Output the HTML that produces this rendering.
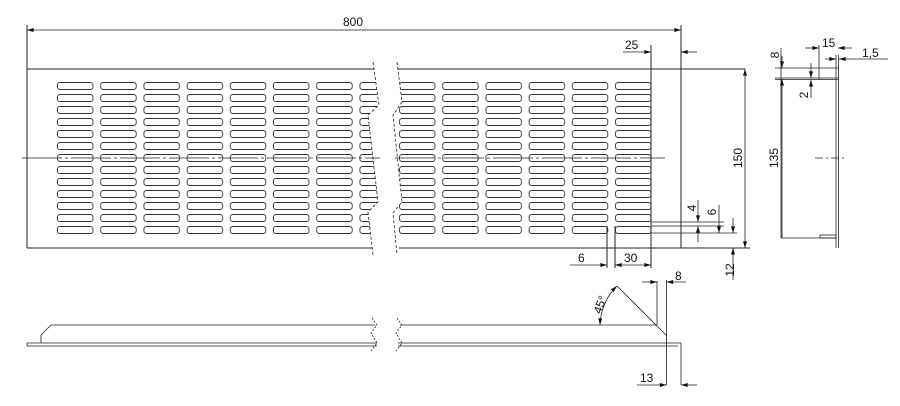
<!DOCTYPE html>
<html><head><meta charset="utf-8"><style>
html,body{margin:0;padding:0;background:#fff;}
svg{display:block;}
text{font-family:"Liberation Sans",sans-serif;font-size:12px;fill:#111;}
</style></head><body>
<svg width="900" height="406" viewBox="0 0 900 406" xmlns="http://www.w3.org/2000/svg">
<defs>
<marker id="a" viewBox="0 0 10 6" refX="10" refY="3" markerWidth="8" markerHeight="4" orient="auto-start-reverse" markerUnits="userSpaceOnUse"><path d="M0,0L10,3L0,6z" fill="#111"/></marker>
<pattern id="slots" x="57" y="82" width="43.2" height="12" patternUnits="userSpaceOnUse">
<rect x="0.5" y="0.5" width="35.5" height="7" rx="2.5" fill="none" stroke="#333" stroke-width="0.9"/>
</pattern>
<pattern id="slots2" x="615" y="82" width="43.2" height="12" patternUnits="userSpaceOnUse">
<rect x="0.5" y="0.5" width="35.5" height="7" rx="2.5" fill="none" stroke="#333" stroke-width="0.9"/>
</pattern>
</defs>
<g stroke="#222" stroke-width="1" fill="none">
<!-- plate outline -->
<line x1="27" y1="25" x2="27" y2="248"/>
<line x1="27" y1="69" x2="375" y2="69"/>
<line x1="27" y1="248" x2="377" y2="248"/>
<line x1="398" y1="69" x2="745" y2="69"/>
<line x1="399" y1="248" x2="750" y2="248"/>
<line x1="681" y1="25" x2="681" y2="248"/>
<line x1="651" y1="45" x2="651" y2="268"/>
<line x1="615" y1="226" x2="615" y2="268"/>
<line x1="607" y1="226" x2="607" y2="268"/>
</g>
<rect x="57" y="82" width="320" height="156" fill="url(#slots)"/>
<rect x="396" y="82" width="255" height="156" fill="url(#slots2)"/>
<!-- break gap -->
<polygon points="373,62 379,105 368,115 378,202 368,212 373,255 397,255 393,213 402,202 393,115 402,102 397,62" fill="#fff"/>
<g stroke="#222" stroke-width="0.8" fill="none" stroke-dasharray="3,2">
<polyline points="373,62 379,105 368,115 378,202 368,212 373,255"/>
<polyline points="397,62 402,102 393,115 402,202 393,213 397,255"/>
</g>
<g stroke="#222" stroke-width="0.8" fill="none">
<line x1="22" y1="158" x2="380" y2="158" stroke-dasharray="40,3,3,3"/>
<line x1="395" y1="158" x2="665" y2="158" stroke-dasharray="40,3,3,3"/>
<!-- 800 dim -->
<line x1="27" y1="30" x2="681" y2="30" marker-start="url(#a)" marker-end="url(#a)"/>
<!-- 25 -->
<line x1="623" y1="52" x2="651" y2="52" marker-end="url(#a)"/>
<line x1="697" y1="52" x2="681" y2="52" marker-end="url(#a)"/>
<!-- 150 -->
<line x1="745" y1="69" x2="745" y2="248" marker-start="url(#a)" marker-end="url(#a)"/>
<!-- small lines -->
<line x1="651" y1="222" x2="724" y2="222"/>
<line x1="651" y1="226" x2="724" y2="226"/>
<line x1="651" y1="233" x2="737" y2="233"/>
<line x1="698" y1="200" x2="698" y2="222" marker-end="url(#a)"/>
<line x1="698" y1="242" x2="698" y2="226" marker-end="url(#a)"/>
<line x1="719" y1="205" x2="719" y2="233" marker-end="url(#a)"/>
<line x1="719" y1="248" x2="719" y2="248"/>
<line x1="733" y1="218" x2="733" y2="233" marker-end="url(#a)"/>
<line x1="733" y1="280" x2="733" y2="248" marker-end="url(#a)"/>
<!-- 6 / 30 -->
<line x1="570" y1="265" x2="607" y2="265" marker-end="url(#a)"/>
<line x1="615" y1="265" x2="651" y2="265" marker-start="url(#a)" marker-end="url(#a)"/>
<!-- side view -->
<line x1="781" y1="48" x2="781" y2="238"/>
<line x1="775" y1="68" x2="838" y2="68"/>
<line x1="775" y1="78" x2="838" y2="78"/>
<line x1="775" y1="79.5" x2="838" y2="79.5"/>
<line x1="836" y1="55" x2="836" y2="248"/>
<line x1="838.5" y1="55" x2="838.5" y2="248"/>
<line x1="781" y1="238" x2="836" y2="238"/>
<rect x="820" y="235" width="16" height="3"/>
<line x1="819" y1="45" x2="819" y2="80"/>
<line x1="815" y1="158" x2="845" y2="158" stroke-dasharray="8,3,2,3"/>
<line x1="805" y1="48" x2="819" y2="48" marker-end="url(#a)"/>
<line x1="852" y1="48" x2="838" y2="48" marker-end="url(#a)"/>
<line x1="825" y1="59" x2="836" y2="59" marker-end="url(#a)"/>
<line x1="888" y1="59" x2="839" y2="59" marker-end="url(#a)"/>
<line x1="782" y1="56" x2="782" y2="68" marker-end="url(#a)"/>
<line x1="782" y1="238" x2="782" y2="79" marker-end="url(#a)"/>
<line x1="811" y1="63" x2="811" y2="78" marker-end="url(#a)"/>
<line x1="811" y1="98" x2="811" y2="80" marker-end="url(#a)"/>
<!-- bottom view -->
<line x1="27" y1="343" x2="377" y2="343"/>
<line x1="27" y1="346" x2="377" y2="346"/>
<line x1="27" y1="343" x2="27" y2="346"/>
<line x1="398" y1="343" x2="681" y2="343"/>
<line x1="398" y1="346" x2="678" y2="346"/>
<polyline points="41,343 41,335 51,325 375,325"/>
<line x1="400" y1="325" x2="657" y2="325"/>
<line x1="657" y1="281" x2="657" y2="325"/>
<line x1="617" y1="286" x2="667" y2="336"/>
<line x1="666.5" y1="280" x2="666.5" y2="385"/>
<line x1="681" y1="343" x2="681" y2="385"/>
<line x1="678" y1="346" x2="678" y2="346"/>
<polyline points="372,318 377,325 371,333 377,343 371,351" stroke-dasharray="2,1.5"/>
<polyline points="397,318 402,325 396,333 402,343 396,351" stroke-dasharray="2,1.5"/>
<line x1="642" y1="282" x2="657" y2="282" marker-end="url(#a)"/>
<line x1="686" y1="282" x2="666.5" y2="282" marker-end="url(#a)"/>
<line x1="637" y1="385" x2="666.5" y2="385" marker-end="url(#a)"/>
<line x1="697" y1="385" x2="681" y2="385" marker-end="url(#a)"/>
<path d="M600,325 A57,57 0 0 1 617,286" marker-start="url(#a)" marker-end="url(#a)"/>
</g>
<text x="343" y="26">800</text>
<text x="625" y="49">25</text>
<text x="578" y="262">6</text>
<text x="624" y="262">30</text>
<text transform="translate(742,158) rotate(-90)" text-anchor="middle">150</text>
<text transform="translate(696,208) rotate(-90)" text-anchor="middle">4</text>
<text transform="translate(716,212) rotate(-90)" text-anchor="middle">6</text>
<text transform="translate(734,270) rotate(-90)" text-anchor="middle">12</text>
<text x="822" y="47">15</text>
<text x="862" y="57">1,5</text>
<text transform="translate(779,55) rotate(-90)" text-anchor="middle">8</text>
<text transform="translate(808,95) rotate(-90)" text-anchor="middle">2</text>
<text transform="translate(778,158) rotate(-90)" text-anchor="middle">135</text>
<text x="675" y="280">8</text>
<text x="640" y="382">13</text>
<text transform="translate(604,306) rotate(-70)" text-anchor="middle">45°</text>
</svg>
</body></html>
